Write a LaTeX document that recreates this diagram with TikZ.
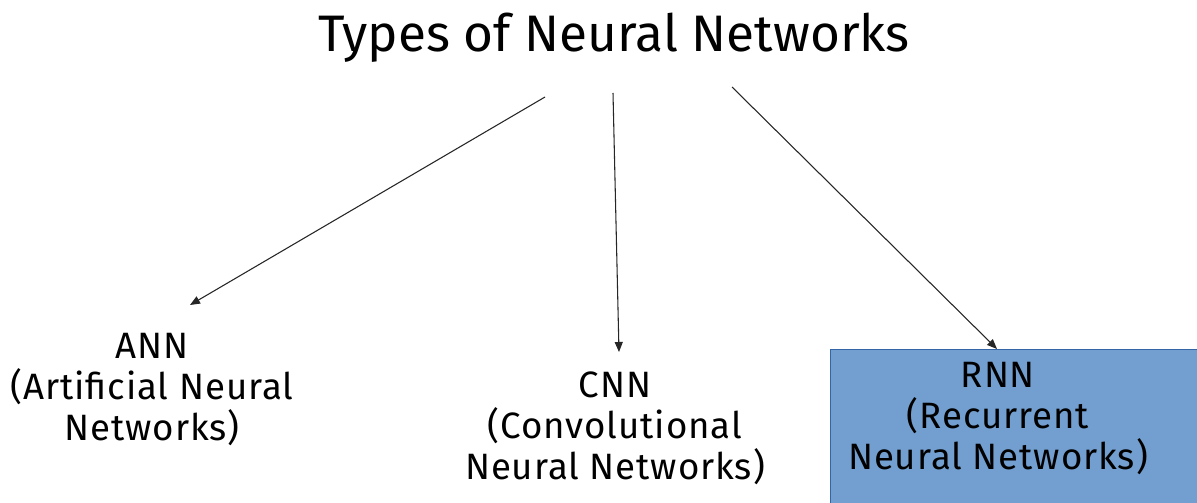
\documentclass[tikz,border=0pt]{standalone}
\usepackage{fontspec}
\setmainfont{Fira Sans}
\newfontfamily\lblfont{Fira Sans}[LetterSpace=2.5]
\usetikzlibrary{arrows.meta}
\definecolor{boxfill}{HTML}{729FCF}
\definecolor{boxline}{HTML}{3465A4}
\tikzset{
  lbl/.style={align=center, inner sep=0pt, font=\lblfont\fontsize{27.5pt}{30.75pt}\selectfont},
  ttl/.style={inner sep=0pt, font=\fontsize{38.5pt}{46pt}\selectfont},
  conn/.style={draw=black!85, line width=0.8pt, -{Triangle[length=7.5pt,width=6pt]}},
  blue box/.style={fill=boxfill, draw=boxline, line width=0.75pt}
}
\begin{document}
\begin{tikzpicture}[x=0.75pt,y=-0.75pt]
\useasboundingbox (0,0) rectangle (1197,503);
\clip (0,0) rectangle (1197,503);
\fill[white] (0,0) rectangle (1197,503);
% title
\node[ttl, anchor=base] (title) at (614,52) {Types of Neural Networks};
% RNN box
\path[blue box] (830,349) rectangle (1240,540);
\coordinate (rnnbox) at (997,349);
% labels
\node[lbl, anchor=north] (ann) at (152,333) {ANN\\(Artificial Neural\\Networks)};
\node[lbl, anchor=north] (cnn) at (615,372) {CNN\\(Convolutional\\Neural Networks)};
\node[lbl, anchor=north] (rnn) at (998,362) {RNN\\(Recurrent\\Neural Networks)};
% connector start points below title
\coordinate (s1) at (545,97);
\coordinate (s2) at (613,93);
\coordinate (s3) at (732,87);
\coordinate (e1) at (190,305);
\coordinate (e2) at (619,352);
\draw[conn] (s1) -- (e1);
\draw[conn] (s2) -- (e2);
\draw[conn] (s3) -- (rnnbox);
\end{tikzpicture}
\end{document}
